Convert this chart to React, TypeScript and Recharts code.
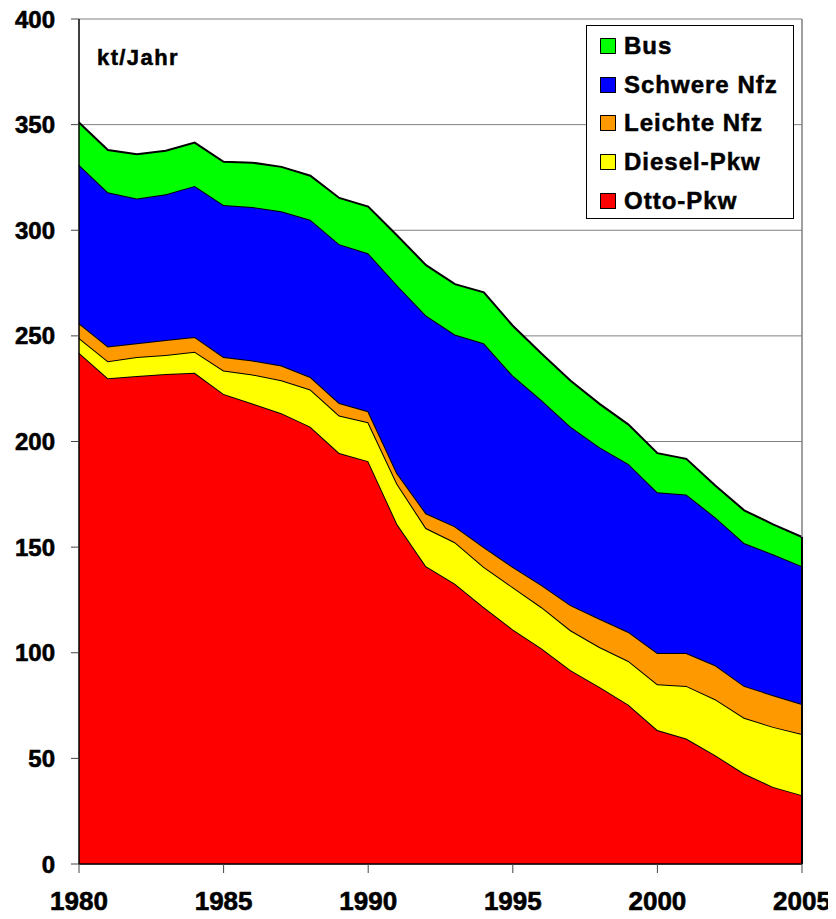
import React from 'react';
import { AreaChart, Area, XAxis, YAxis, CartesianGrid, ReferenceLine } from 'recharts';

const years = [1980, 1981, 1982, 1983, 1984, 1985, 1986, 1987, 1988, 1989, 1990, 1991, 1992, 1993, 1994, 1995, 1996, 1997, 1998, 1999, 2000, 2001, 2002, 2003, 2004, 2005];
const otto = [242, 230, 231, 232, 232.5, 222.5, 218, 213.4, 207, 194.5, 190.7, 161, 141, 132.7, 121.5, 111, 102, 91.7, 83.8, 75.4, 63.4, 59.4, 51.5, 42.8, 36.5, 32.6];
const diesel = [7, 8, 9, 9, 10, 11.1, 13.7, 15.6, 17.6, 17.8, 18.4, 19, 18, 19.6, 19.1, 20, 19.5, 18.9, 18.9, 20.7, 21.7, 24.9, 26.5, 26.4, 28.4, 28.9];
const leichte = [7, 7, 6.5, 7, 7, 6.4, 6.6, 7, 5.9, 5.9, 5.2, 5, 7, 7.5, 9.4, 9.6, 10.5, 11.9, 13.4, 13.7, 14.8, 15.6, 16.1, 15.1, 15, 14.2];
const schwere = [75, 73, 68.5, 69, 71.5, 72, 72.7, 73, 74.5, 75.2, 74.8, 89, 93.6, 90.8, 96.5, 90.6, 87.5, 84.5, 81.2, 79.6, 76.1, 75, 70.1, 67.6, 66.7, 65.3];
const bus = [20, 20, 21, 20.6, 20.5, 20.4, 21, 21, 20.8, 21.9, 22.1, 23.5, 23.9, 23.9, 24.1, 23.6, 22, 21.8, 20.5, 18.6, 18.5, 16.9, 15, 15.5, 14.2, 13.8];

const xTicks = [1980, 1985, 1990, 1995, 2000, 2005];
const yTicks = [0, 50, 100, 150, 200, 250, 300, 350, 400];

const seriesDefs = [
  { key: 'otto', name: 'Otto-Pkw', color: '#FF0000' },
  { key: 'diesel', name: 'Diesel-Pkw', color: '#FFFF00' },
  { key: 'leichte', name: 'Leichte Nfz', color: '#FF9900' },
  { key: 'schwere', name: 'Schwere Nfz', color: '#0000FF' },
  { key: 'bus', name: 'Bus', color: '#00FF00' },
];

const data = years.map((y, i) => ({
  year: y,
  otto: otto[i],
  diesel: diesel[i],
  leichte: leichte[i],
  schwere: schwere[i],
  bus: bus[i],
}));

const last = data.length - 1;
const lastTotal = otto[last] + diesel[last] + leichte[last] + schwere[last] + bus[last];

const FONT = '"Liberation Sans", Arial, Helvetica, sans-serif';

export default function App() {
  return (
    <div style={{ position: 'relative', width: 836, height: 919, margin: -8, fontFamily: FONT }}>
      <AreaChart
        width={836}
        height={919}
        data={data}
        margin={{ top: 19, right: 34, left: 0, bottom: 0 }}
      >
        <CartesianGrid vertical={false} stroke="#808080" strokeWidth={1} />
        <XAxis
          dataKey="year"
          type="number"
          domain={[1980, 2005]}
          ticks={xTicks}
          height={55}
          axisLine={{ stroke: '#000', strokeWidth: 1.5 }}
          tickLine={{ stroke: '#444' }}
          tickSize={9}
          tickMargin={19}
          tick={{ fill: '#000', stroke: '#000', strokeWidth: 0.6, fontSize: 26, fontWeight: 'bold', fontFamily: FONT }}
          interval={0}
        />
        <YAxis
          type="number"
          domain={[0, 400]}
          ticks={yTicks}
          width={79}
          axisLine={{ stroke: '#000', strokeWidth: 1.5 }}
          tickLine={{ stroke: '#444' }}
          tickSize={8}
          tickMargin={16}
          tick={{ fill: '#000', stroke: '#000', strokeWidth: 0.6, fontSize: 24, fontWeight: 'bold', fontFamily: FONT }}
          interval={0}
        />
        {seriesDefs.map((s) => (
          <Area
            key={s.key}
            type="linear"
            dataKey={s.key}
            name={s.name}
            stackId="1"
            stroke="#000"
            strokeWidth={2}
            fill={s.color}
            fillOpacity={1}
            isAnimationActive={false}
            dot={false}
            activeDot={false}
          />
        ))}
        <ReferenceLine
          segment={[{ x: 2005, y: lastTotal }, { x: 2005, y: 400 }]}
          stroke="#808080"
          strokeWidth={1.5}
        />
        <ReferenceLine
          segment={[{ x: 2005, y: 0 }, { x: 2005, y: lastTotal }]}
          stroke="#000"
          strokeWidth={2}
        />
      </AreaChart>
      <div
        style={{
          position: 'absolute',
          left: 97,
          top: 45,
          fontSize: 22,
          fontWeight: 'bold',
          letterSpacing: 1.4,
          color: '#000',
          lineHeight: '26px',
          WebkitTextStroke: '0.5px #000',
        }}
      >
        kt/Jahr
      </div>
      <div
        style={{
          position: 'absolute',
          left: 586,
          top: 25,
          width: 206,
          height: 191,
          border: '1px solid #000',
          background: '#fff',
          paddingTop: 1,
          boxSizing: 'content-box',
        }}
      >
        {[...seriesDefs].reverse().map((s) => (
          <div
            key={s.key}
            style={{ height: 38.6, display: 'flex', alignItems: 'center' }}
          >
            <div
              style={{
                marginLeft: 13,
                width: 14,
                height: 14,
                background: s.color,
                border: '1px solid #000',
              }}
            />
            <span
              style={{
                marginLeft: 8,
                fontSize: 24,
                fontWeight: 'bold',
                letterSpacing: 1.0,
                color: '#000',
                whiteSpace: 'nowrap',
                WebkitTextStroke: '0.5px #000',
              }}
            >
              {s.name}
            </span>
          </div>
        ))}
      </div>
    </div>
  );
}
